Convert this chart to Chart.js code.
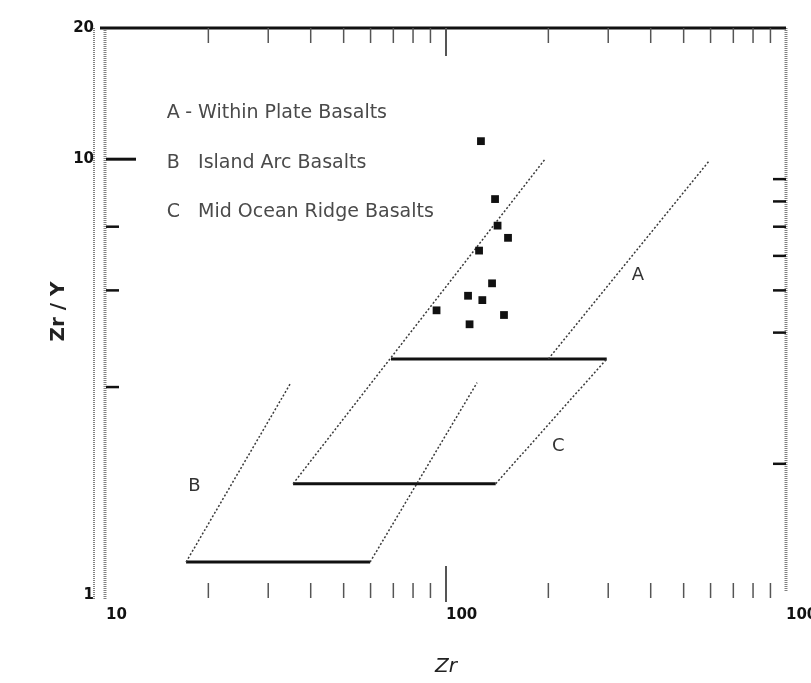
<!doctype html>
<html lang="en">
    <head>
        <meta charset="UTF-8" />
        <title>Zr/Y - Zr discrimination diagram</title>
        <style>
            html,
            body {
                margin: 0;
                padding: 0;
                background: #fff;
            }
            #chart {
                display: block;
            }
        </style>
    </head>

    <body>
        <canvas id="chart" width="811" height="683"></canvas>

        <script src="https://cdn.jsdelivr.net/npm/chart.js@4.4.1/dist/chart.umd.min.js"></script>

        <script>
            // sample analyses
            const sampleZr = [126.7, 139.4, 141.8, 152.2, 125.1, 136.6, 116.1, 127.9, 93.8, 148.1, 117.3];
            const sampleZrY = [11.0, 8.1, 7.04, 6.6, 6.17, 5.19, 4.86, 4.75, 4.5, 4.39, 4.18];

            // sloping field boundaries, [start, end]
            const slopeZr = [
                [17.2, 34.8],
                [59.8, 123.4],
                [35.5, 195.5],
                [140, 297],
                [200, 595],
            ];
            const slopeZrY = [
                [1.19, 3.05],
                [1.19, 3.07],
                [1.8, 10],
                [1.8, 3.48],
                [3.48, 9.92],
            ];

            // flat field boundaries
            const flatZr = [
                [17.2, 59.8],
                [35.5, 140],
                [68.9, 297],
            ];
            const flatZrY = [1.19, 1.8, 3.48];

            // axes
            const xTicks = [10, 100, 1000];
            const yTicks = [1, 10, 20];
            const xMinor = [20, 30, 40, 50, 60, 70, 80, 90, 200, 300, 400, 500, 600, 700, 800, 900];
            const yLeftMinor = [3, 5, 7];
            const yRightMinor = [2, 4, 5, 6, 7, 8, 9];

            // field letters inside the plot
            const fieldNames = ["A", "B", "C"];
            const fieldZr = [367, 18.2, 214];
            const fieldZrY = [5.42, 1.78, 2.19];

            // key in the top-left corner
            const keyLetters = ["A", "B", "C"];
            const keyText = ["- Within Plate Basalts", "Island Arc Basalts", "Mid Ocean Ridge Basalts"];
            const keyLetterZr = 15.1;
            const keyTextZr = [17.1, 18.65, 18.65];
            const keyZrY = [12.76, 9.8, 7.56];

            const datasets = [
                {
                    label: "samples",
                    data: sampleZr.map((zr, i) => ({ x: zr, y: sampleZrY[i] })),
                    pointStyle: "rect",
                    pointRadius: 5.5,
                    backgroundColor: "#111",
                    borderColor: "#111",
                    borderWidth: 0,
                },
            ];

            slopeZr.forEach((zr, i) => {
                datasets.push({
                    data: [
                        { x: zr[0], y: slopeZrY[i][0] },
                        { x: zr[1], y: slopeZrY[i][1] },
                    ],
                    showLine: true,
                    pointRadius: 0,
                    borderColor: "#3a3a3a",
                    borderWidth: 1.5,
                    borderDash: [2, 2],
                });
            });

            flatZr.forEach((zr, i) => {
                datasets.push({
                    data: [
                        { x: zr[0], y: flatZrY[i] },
                        { x: zr[1], y: flatZrY[i] },
                    ],
                    showLine: true,
                    pointRadius: 0,
                    borderColor: "#111",
                    borderWidth: 3,
                });
            });

            function line(ctx, x1, y1, x2, y2) {
                ctx.beginPath();
                ctx.moveTo(x1, y1);
                ctx.lineTo(x2, y2);
                ctx.stroke();
            }

            // frame, borders and tick marks the way the scan shows them
            const framePlugin = {
                id: "frame",
                beforeDatasetsDraw(chart) {
                    const { ctx, chartArea: a, scales } = chart;
                    const x = scales.x;
                    const y = scales.y;
                    ctx.save();

                    // hatched side borders
                    ctx.strokeStyle = "#808080";
                    ctx.setLineDash([1, 1]);
                    ctx.lineWidth = 2;
                    line(ctx, a.left - 12, a.top, a.left - 12, a.bottom + 5);
                    ctx.lineWidth = 3;
                    line(ctx, a.left - 1, a.top, a.left - 1, a.bottom + 5);
                    line(ctx, a.right, a.top, a.right, a.bottom - 3);
                    ctx.setLineDash([]);

                    // top border
                    ctx.strokeStyle = "#111";
                    ctx.lineWidth = 3;
                    line(ctx, a.left - 6, a.top, a.right, a.top);

                    // top and bottom ticks
                    ctx.strokeStyle = "#555";
                    ctx.lineWidth = 1.5;
                    xMinor.forEach((v) => {
                        const px = x.getPixelForValue(v);
                        line(ctx, px, a.top, px, a.top + 15);
                        line(ctx, px, a.bottom - 12, px, a.bottom + 3);
                    });
                    const p100 = x.getPixelForValue(100);
                    ctx.lineWidth = 2;
                    line(ctx, p100, a.top, p100, a.top + 28);
                    line(ctx, p100, a.bottom - 29, p100, a.bottom + 7);

                    // left ticks
                    ctx.strokeStyle = "#111";
                    ctx.lineWidth = 3;
                    const p10 = y.getPixelForValue(10);
                    line(ctx, a.left, p10, a.left + 30, p10);
                    ctx.lineWidth = 2.5;
                    yLeftMinor.forEach((v) => {
                        const py = y.getPixelForValue(v);
                        line(ctx, a.left, py, a.left + 13, py);
                    });

                    // right ticks
                    yRightMinor.forEach((v) => {
                        const py = y.getPixelForValue(v);
                        line(ctx, a.right - 13, py, a.right, py);
                    });

                    ctx.restore();
                },
                afterDatasetsDraw(chart) {
                    const { ctx, scales } = chart;
                    const x = scales.x;
                    const y = scales.y;
                    ctx.save();
                    ctx.textBaseline = "middle";
                    ctx.textAlign = "left";

                    ctx.fillStyle = "#4a4a4a";
                    ctx.font = "19px 'DejaVu Sans'";
                    keyLetters.forEach((letter, i) => {
                        const py = y.getPixelForValue(keyZrY[i]);
                        ctx.fillText(letter, x.getPixelForValue(keyLetterZr), py);
                        ctx.fillText(keyText[i], x.getPixelForValue(keyTextZr[i]), py);
                    });

                    ctx.fillStyle = "#333";
                    ctx.textAlign = "center";
                    ctx.font = "18px 'DejaVu Sans'";
                    fieldNames.forEach((name, i) => {
                        ctx.fillText(name, x.getPixelForValue(fieldZr[i]), y.getPixelForValue(fieldZrY[i]));
                    });

                    ctx.restore();
                },
            };

            const tickFont = { family: "'DejaVu Sans'", size: 15, weight: "bold" };

            new Chart(document.getElementById("chart"), {
                type: "scatter",
                data: { datasets },
                options: {
                    responsive: false,
                    animation: false,
                    layout: { padding: { top: 28, right: 25, bottom: 0, left: 0 } },
                    plugins: {
                        legend: { display: false },
                        tooltip: { enabled: false },
                    },
                    scales: {
                        x: {
                            type: "logarithmic",
                            min: 10,
                            max: 1000,
                            grid: { display: false, drawTicks: false },
                            border: { display: false },
                            afterBuildTicks: (s) => {
                                s.ticks = xTicks.map((v) => ({ value: v }));
                            },
                            afterFit: (s) => {
                                s.height = 88;
                                s.paddingLeft = 0;
                                s.paddingRight = 0;
                            },
                            ticks: {
                                autoSkip: false,
                                maxRotation: 0,
                                align: "start",
                                padding: 11,
                                color: "#111",
                                font: tickFont,
                                callback: (v) => String(v),
                            },
                            title: {
                                display: true,
                                text: "Zr",
                                color: "#222",
                                font: { family: "'DejaVu Sans'", size: 20, style: "italic" },
                                padding: { top: 0, bottom: 4 },
                            },
                        },
                        y: {
                            type: "logarithmic",
                            min: 1,
                            max: 20,
                            grid: { display: false, drawTicks: false },
                            border: { display: false },
                            afterBuildTicks: (s) => {
                                s.ticks = yTicks.map((v) => ({ value: v }));
                            },
                            afterFit: (s) => {
                                s.width = 106;
                                s.paddingTop = 0;
                                s.paddingBottom = 0;
                            },
                            ticks: {
                                autoSkip: false,
                                padding: 12,
                                color: "#111",
                                font: tickFont,
                                callback: (v) => String(v),
                            },
                            title: {
                                display: true,
                                text: "Zr / Y",
                                color: "#222",
                                font: { family: "'DejaVu Sans'", size: 20, weight: "bold" },
                                padding: { top: 47, bottom: 0 },
                            },
                        },
                    },
                },
                plugins: [framePlugin],
            });
        </script>
</body>
</html>
